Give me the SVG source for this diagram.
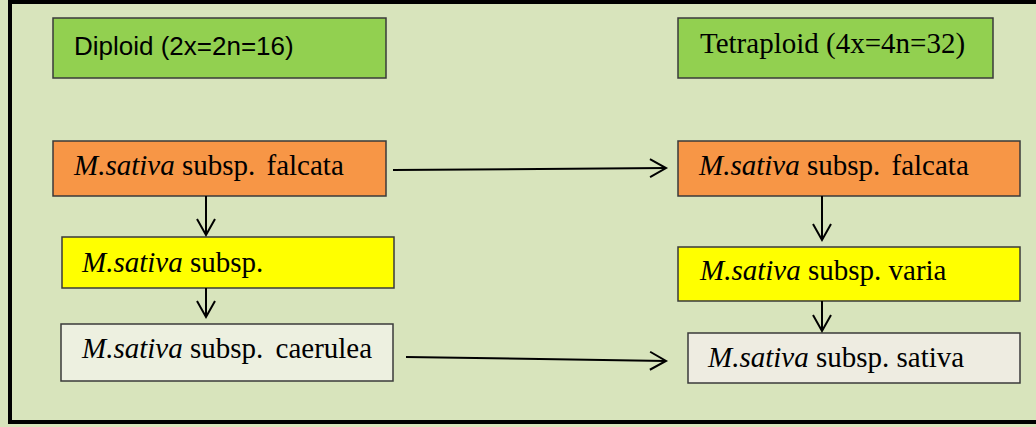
<svg xmlns="http://www.w3.org/2000/svg" width="1036" height="427" viewBox="0 0 1036 427">
<style>
.box{stroke:#3a3a3a;stroke-width:1.5}
.g{fill:#92d050}.o{fill:#f79646}.y{fill:#ffff00}.w{fill:#eeece1}
.t{font-family:"Liberation Serif","Times New Roman",serif;font-size:29px;fill:#000}
.s{font-family:"Liberation Sans",Arial,sans-serif;font-size:26px;fill:#000}
.i{font-style:italic}
.c{stroke:#000;stroke-width:2;fill:none}
</style>
<defs>
<marker id="ah" markerUnits="userSpaceOnUse" markerWidth="24" markerHeight="24" viewBox="-20 -12 24 24" refX="0" refY="0" orient="auto">
<path d="M-16,-9 L0,0 L-16,9" fill="none" stroke="#000" stroke-width="2"/>
</marker>
</defs>
<rect x="0" y="0" width="1036" height="427" fill="#d8e4bc"/>
<rect x="10" y="2" width="1030" height="420" fill="#d8e4bc" stroke="#000" stroke-width="4"/>
<g id="diploid"><rect class="box g" x="53" y="18" width="333" height="60"/><text class="s" x="74" y="55">Diploid (2x=2n=16)</text></g>
<g id="tetraploid"><rect class="box g" x="678" y="18" width="315" height="60"/><text class="t" x="700" y="53">Tetraploid (4x=4n=32)</text></g>
<g id="falcata-2x"><rect class="box o" x="53" y="141" width="333" height="55"/><text class="t" x="74" y="175"><tspan class="i">M.sativa</tspan> subsp. <tspan dx="4">falcata</tspan></text></g>
<g id="subsp-2x"><rect class="box y" x="62" y="237" width="332" height="51"/><text class="t" x="82" y="272"><tspan class="i">M.sativa</tspan> subsp.</text></g>
<g id="caerulea-2x"><rect class="box" style="fill:#edf0e0" x="61" y="324" width="332" height="57"/><text class="t" x="82" y="358"><tspan class="i">M.sativa</tspan> subsp. <tspan dx="5">caerulea</tspan></text></g>
<g id="falcata-4x"><rect class="box o" x="678" y="141" width="342" height="55"/><text class="t" x="699" y="175"><tspan class="i">M.sativa</tspan> subsp. <tspan dx="4">falcata</tspan></text></g>
<g id="varia-4x"><rect class="box y" x="678" y="247" width="342" height="54"/><text class="t" x="700" y="280"><tspan class="i">M.sativa</tspan> subsp. varia</text></g>
<g id="sativa-4x"><rect class="box w" x="688" y="333" width="332" height="50"/><text class="t" x="708" y="367"><tspan class="i">M.sativa</tspan> subsp. sativa</text></g>
<g id="connectors">
<line class="c" x1="206" y1="196" x2="206" y2="235" marker-end="url(#ah)"/>
<line class="c" x1="206" y1="288" x2="206" y2="317" marker-end="url(#ah)"/>
<line class="c" x1="822" y1="196" x2="822" y2="240" marker-end="url(#ah)"/>
<line class="c" x1="822" y1="301" x2="822" y2="331" marker-end="url(#ah)"/>
<line class="c" x1="393" y1="170" x2="666" y2="168" marker-end="url(#ah)"/>
<line class="c" x1="406" y1="357" x2="666" y2="361" marker-end="url(#ah)"/>
</g>
</svg>
